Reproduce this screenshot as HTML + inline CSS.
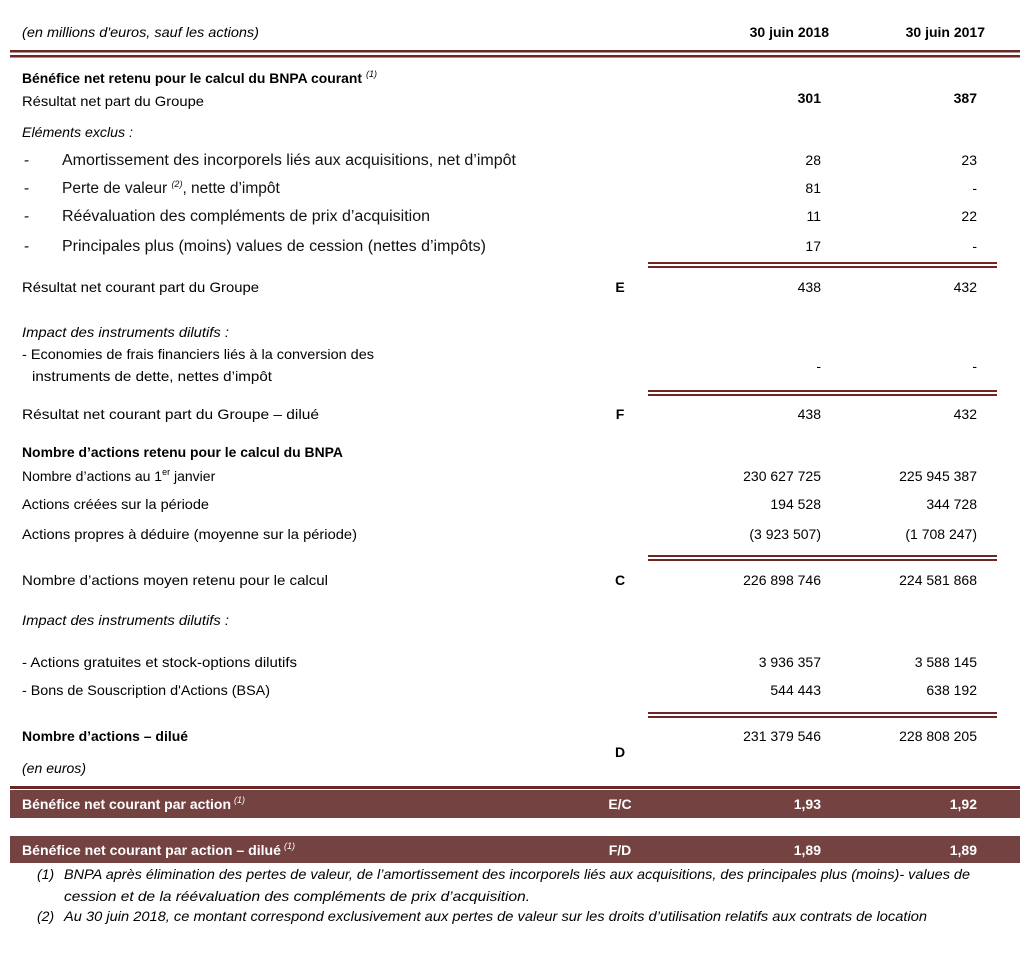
<!DOCTYPE html>
<html><head><meta charset="utf-8"><style>
html,body{margin:0;padding:0;background:#fff;}
svg{display:block;font-family:"Liberation Sans",sans-serif;}
text{font-size:14px;fill:#000;}
.b{font-weight:bold;}
.i{font-style:italic;}
.a{font-size:15.5px;fill:#111;}
.w{fill:#fff;font-weight:bold;}
.s{font-size:9px;font-style:italic;}
</style></head><body>
<svg width="1022" height="964" viewBox="0 0 1022 964" xmlns="http://www.w3.org/2000/svg">
<g fill="#6b2626">
<rect x="10" y="50" width="1010" height="2.5"/><rect x="10" y="55" width="1010" height="2.5"/>
<rect x="648" y="262" width="349" height="2"/><rect x="648" y="266" width="349" height="2"/>
<rect x="648" y="390" width="349" height="2"/><rect x="648" y="394" width="349" height="2"/>
<rect x="648" y="555" width="349" height="2"/><rect x="648" y="559" width="349" height="2"/>
<rect x="648" y="712" width="349" height="2"/><rect x="648" y="716" width="349" height="2"/>
<rect x="10" y="786" width="1010" height="3"/>
</g>
<rect x="10" y="790" width="1010" height="28" fill="#744240"/>
<rect x="10" y="836" width="1010" height="27" fill="#744240"/>

<text class="i" x="22" y="37" textLength="237" lengthAdjust="spacingAndGlyphs">(en millions d'euros, sauf les actions)</text>
<text class="b" x="829" y="37" text-anchor="end">30 juin 2018</text>
<text class="b" x="985" y="37" text-anchor="end">30 juin 2017</text>

<text class="b" x="22" y="83" textLength="340" lengthAdjust="spacingAndGlyphs">Bénéfice net retenu pour le calcul du BNPA courant</text>
<text class="s" x="366" y="77">(1)</text>
<text x="22" y="106" textLength="182" lengthAdjust="spacingAndGlyphs">Résultat net part du Groupe</text>
<text class="b" x="821" y="103" text-anchor="end">301</text>
<text class="b" x="977" y="103" text-anchor="end">387</text>
<text class="i" x="22" y="137" textLength="111" lengthAdjust="spacingAndGlyphs">Eléments exclus :</text>

<text class="a" x="24" y="165">-</text>
<text class="a" x="62" y="165" textLength="454" lengthAdjust="spacingAndGlyphs">Amortissement des incorporels liés aux acquisitions, net d’impôt</text>
<text class="a" x="24" y="193">-</text>
<text class="a" x="62" y="193">Perte de valeur <tspan style="font-size:9px;font-style:italic" dy="-6">(2)</tspan><tspan dy="6">, nette d’impôt</tspan></text>
<text class="a" x="24" y="221">-</text>
<text class="a" x="62" y="221" textLength="368" lengthAdjust="spacingAndGlyphs">Réévaluation des compléments de prix d’acquisition</text>
<text class="a" x="24" y="251">-</text>
<text class="a" x="62" y="251" textLength="424" lengthAdjust="spacingAndGlyphs">Principales plus (moins) values de cession (nettes d’impôts)</text>
<text x="821" y="165" text-anchor="end">28</text><text x="977" y="165" text-anchor="end">23</text>
<text x="821" y="193" text-anchor="end">81</text><text x="977" y="193" text-anchor="end">-</text>
<text x="821" y="221" text-anchor="end">11</text><text x="977" y="221" text-anchor="end">22</text>
<text x="821" y="251" text-anchor="end">17</text><text x="977" y="251" text-anchor="end">-</text>

<text x="22" y="292" textLength="237" lengthAdjust="spacingAndGlyphs">Résultat net courant part du Groupe</text>
<text class="b" x="620" y="292" text-anchor="middle">E</text>
<text x="821" y="292" text-anchor="end">438</text><text x="977" y="292" text-anchor="end">432</text>

<text class="i" x="22" y="337" textLength="207" lengthAdjust="spacingAndGlyphs">Impact des instruments dilutifs :</text>
<text x="22" y="359" textLength="352" lengthAdjust="spacingAndGlyphs">- Economies de frais financiers liés à la conversion des</text>
<text x="32" y="381" textLength="240" lengthAdjust="spacingAndGlyphs">instruments de dette, nettes d’impôt</text>
<text x="821" y="371" text-anchor="end">-</text><text x="977" y="371" text-anchor="end">-</text>

<text x="22" y="419" textLength="297" lengthAdjust="spacingAndGlyphs">Résultat net courant part du Groupe – dilué</text>
<text class="b" x="620" y="419" text-anchor="middle">F</text>
<text x="821" y="419" text-anchor="end">438</text><text x="977" y="419" text-anchor="end">432</text>

<text class="b" x="22" y="457" textLength="321" lengthAdjust="spacingAndGlyphs">Nombre d’actions retenu pour le calcul du BNPA</text>
<text x="22" y="481">Nombre d’actions au 1<tspan style="font-size:9px" dy="-6">er</tspan><tspan dy="6"> janvier</tspan></text>
<text x="22" y="509" textLength="187" lengthAdjust="spacingAndGlyphs">Actions créées sur la période</text>
<text x="22" y="539" textLength="335" lengthAdjust="spacingAndGlyphs">Actions propres à déduire (moyenne sur la période)</text>
<text x="821" y="481" text-anchor="end">230 627 725</text><text x="977" y="481" text-anchor="end">225 945 387</text>
<text x="821" y="509" text-anchor="end">194 528</text><text x="977" y="509" text-anchor="end">344 728</text>
<text x="821" y="539" text-anchor="end">(3 923 507)</text><text x="977" y="539" text-anchor="end">(1 708 247)</text>

<text x="22" y="585" textLength="306" lengthAdjust="spacingAndGlyphs">Nombre d’actions moyen  retenu pour le calcul</text>
<text class="b" x="620" y="585" text-anchor="middle">C</text>
<text x="821" y="585" text-anchor="end">226 898 746</text><text x="977" y="585" text-anchor="end">224 581 868</text>

<text class="i" x="22" y="625" textLength="207" lengthAdjust="spacingAndGlyphs">Impact des instruments dilutifs :</text>
<text x="22" y="667" textLength="275" lengthAdjust="spacingAndGlyphs">- Actions gratuites et stock-options dilutifs</text>
<text x="22" y="695" textLength="248" lengthAdjust="spacingAndGlyphs">- Bons de Souscription d'Actions (BSA)</text>
<text x="821" y="667" text-anchor="end">3 936 357</text><text x="977" y="667" text-anchor="end">3 588 145</text>
<text x="821" y="695" text-anchor="end">544 443</text><text x="977" y="695" text-anchor="end">638 192</text>

<text class="b" x="22" y="741" textLength="166" lengthAdjust="spacingAndGlyphs">Nombre d’actions – dilué</text>
<text x="821" y="741" text-anchor="end">231 379 546</text><text x="977" y="741" text-anchor="end">228 808 205</text>
<text class="b" x="620" y="757" text-anchor="middle">D</text>
<text class="i" x="22" y="773" textLength="64" lengthAdjust="spacingAndGlyphs">(en euros)</text>

<text class="w" x="22" y="809" textLength="209" lengthAdjust="spacingAndGlyphs">Bénéfice net courant par action</text>
<text class="s" x="234" y="803" style="fill:#fff">(1)</text>
<text class="w" x="620" y="809" text-anchor="middle">E/C</text>
<text class="w" x="821" y="809" text-anchor="end">1,93</text><text class="w" x="977" y="809" text-anchor="end">1,92</text>

<text class="w" x="22" y="855" textLength="259" lengthAdjust="spacingAndGlyphs">Bénéfice net courant par action – dilué</text>
<text class="s" x="284" y="849" style="fill:#fff">(1)</text>
<text class="w" x="620" y="855" text-anchor="middle">F/D</text>
<text class="w" x="821" y="855" text-anchor="end">1,89</text><text class="w" x="977" y="855" text-anchor="end">1,89</text>

<text class="i" x="37" y="879">(1)</text>
<text class="i" x="64" y="879" textLength="906" lengthAdjust="spacingAndGlyphs">BNPA après élimination des pertes de valeur, de l’amortissement des incorporels liés aux acquisitions, des principales plus (moins)- values de</text>
<text class="i" x="64" y="901" textLength="466" lengthAdjust="spacingAndGlyphs">cession et de la réévaluation des compléments de prix d’acquisition.</text>
<text class="i" x="37" y="921">(2)</text>
<text class="i" x="64" y="921" textLength="863" lengthAdjust="spacingAndGlyphs">Au 30 juin 2018, ce montant correspond exclusivement aux pertes de valeur sur les droits d’utilisation relatifs aux contrats de location</text>
</svg>
</body></html>
